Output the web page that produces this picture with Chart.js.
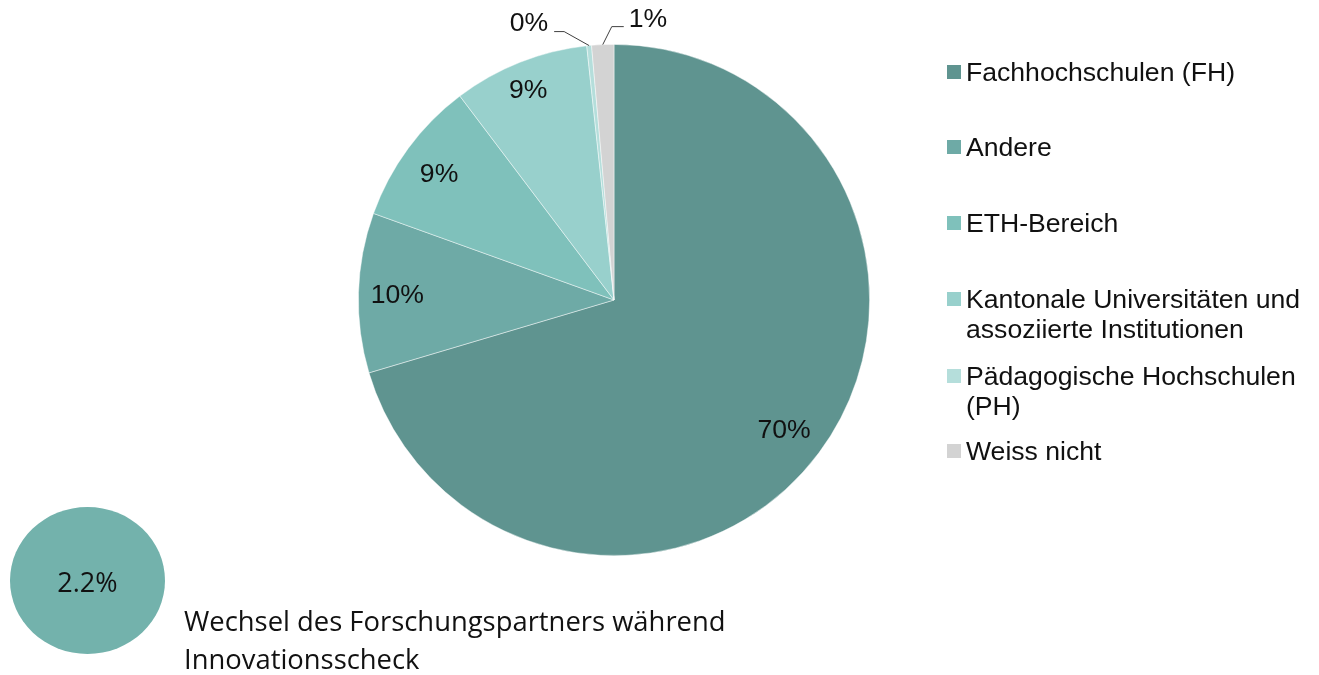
<!DOCTYPE html>
<html>
<head>
<meta charset="utf-8">
<script src="https://cdn.jsdelivr.net/npm/chart.js@4"></script>
<style>
  html, body { margin:0; padding:0; background:#fff; width:1319px; height:675px; overflow:hidden; }
  #wrap { position:relative; width:1319px; height:675px; }
  #c { position:absolute; left:0; top:0; }
  .leg { position:absolute; left:946px; font-family:"Liberation Sans", Arial, sans-serif; font-size:26.6px; color:#111; line-height:30px; }
  .leg .sw { position:absolute; left:1px; top:8px; width:14px; height:14px; }
  .leg .tx { position:absolute; left:20px; white-space:nowrap; }
  #bubble { position:absolute; left:10px; top:507px; width:155px; height:147px; border-radius:50%; background:#73b2ac; }
  #bubbleTxt { position:absolute; left:10px; top:563px; width:155px; text-align:center; font-family:"Open Sans", sans-serif; font-size:27px; line-height:38px; color:#111; }
  #note { position:absolute; left:184px; top:602px; font-family:"Open Sans", sans-serif; font-size:27.4px; line-height:38px; color:#111; white-space:nowrap; }
</style>
</head>
<body>
<div id="wrap">
  <canvas id="c" width="1319" height="675"></canvas>
  <div id="legend"></div>
  <div id="bubble"></div>
  <div id="bubbleTxt"></div>
  <div id="note">Wechsel des Forschungspartners während<br>Innovationsscheck</div>
</div>
<script>
const categories = ["Fachhochschulen (FH)", "Andere", "ETH-Bereich", "Kantonale Universitäten und assoziierte Institutionen", "Pädagogische Hochschulen (PH)", "Weiss nicht"];
const legendLines = [["Fachhochschulen (FH)"], ["Andere"], ["ETH-Bereich"], ["Kantonale Universitäten und", "assoziierte Institutionen"], ["Pädagogische Hochschulen", "(PH)"], ["Weiss nicht"]];
const shares = [70.4, 10.1, 9.2, 8.6, 0.3, 1.4];
const colors = ["#5f9490", "#6eaaa6", "#7fc1bb", "#98d0cc", "#b5dedb", "#d3d3d3"];
const bubbleValue = [2.2];

// legend (HTML)
const legendTops = [57, 132, 208, 284, 361, 436];
const legEl = document.getElementById('legend');
legendLines.forEach((lines, i) => {
  const d = document.createElement('div');
  d.className = 'leg';
  d.style.top = legendTops[i] + 'px';
  d.innerHTML = '<div class="sw" style="background:' + colors[i] + '"></div><div class="tx">' + lines.join('<br>') + '</div>';
  legEl.appendChild(d);
});
document.getElementById('bubbleTxt').textContent = bubbleValue[0].toFixed(1) + '%';

const labelPlugin = {
  id: 'sliceLabels',
  afterDatasetsDraw(chart) {
    const ctx = chart.ctx;
    const meta = chart.getDatasetMeta(0);
    const total = shares.reduce((a, b) => a + b, 0);
    ctx.save();
    ctx.font = '26.6px "Liberation Sans", Arial, sans-serif';
    ctx.fillStyle = '#111';
    meta.data.forEach((arc, i) => {
      const p = arc.getProps(['x', 'y', 'startAngle', 'endAngle', 'outerRadius'], true);
      const mid = (p.startAngle + p.endAngle) / 2;
      const txt = Math.round(shares[i] / total * 100) + '%';
      if (i < 4) {
        const rf = i === 3 ? 0.89 : 0.84;
        const x = p.x + Math.cos(mid) * p.outerRadius * rf;
        const y = p.y + Math.sin(mid) * p.outerRadius * rf;
        ctx.textAlign = 'center';
        ctx.textBaseline = 'middle';
        ctx.fillText(txt, x - 2, y + 2);
      } else {
        const ax = p.x + Math.cos(mid) * p.outerRadius;
        const ay = p.y + Math.sin(mid) * p.outerRadius;
        ctx.strokeStyle = '#404040';
        ctx.lineWidth = 1;
        ctx.beginPath();
        if (i === 4) {
          const ex = ax - 25, ey = ay - 14;
          ctx.moveTo(ax, ay); ctx.lineTo(ex, ey); ctx.lineTo(ex - 10, ey);
          ctx.stroke();
          ctx.textAlign = 'right'; ctx.textBaseline = 'alphabetic';
          ctx.fillText(txt, ex - 16, ey - 1);
        } else {
          const ex = ax + 9, ey = ay - 18;
          ctx.moveTo(ax, ay); ctx.lineTo(ex, ey); ctx.lineTo(ex + 12, ey);
          ctx.stroke();
          ctx.textAlign = 'left'; ctx.textBaseline = 'alphabetic';
          ctx.fillText(txt, ex + 17, ey);
        }
      }
    });
    ctx.restore();
  }
};

new Chart(document.getElementById('c'), {
  type: 'pie',
  data: {
    labels: categories,
    datasets: [{ data: shares, backgroundColor: colors, borderColor: 'rgba(255,255,255,0.6)', borderWidth: 0.75 }]
  },
  options: {
    responsive: false,
    animation: false,
    layout: { padding: { left: 358, right: 449, top: 44, bottom: 119 } },
    plugins: { legend: { display: false }, tooltip: { enabled: false } }
  },
  plugins: [labelPlugin]
});
</script>
</body>
</html>
